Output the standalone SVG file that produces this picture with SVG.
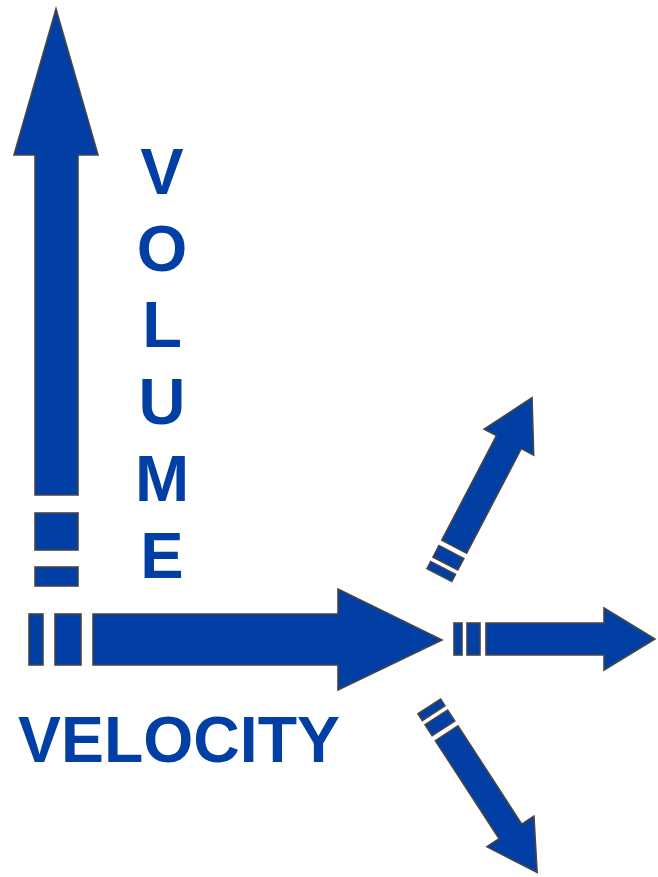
<svg xmlns="http://www.w3.org/2000/svg" width="658" height="877" viewBox="0 0 658 877">
  <style>
    .a { fill: #023FA5; stroke: #454545; stroke-width: 1.6; stroke-linejoin: miter; }
    .t { fill: #023FA5; font-family: "Liberation Sans", Arial, sans-serif; font-weight: bold; font-size: 65px; }
  </style>
  <defs>
    <g id="small">
      <path class="a" d="M0,-14 H118 V-28 L168,0 L118,28 V14 H0 Z"/>
      <rect class="a" x="-19" y="-14" width="13" height="28"/>
      <rect class="a" x="-32" y="-14" width="8" height="28"/>
    </g>
  </defs>
  <rect width="658" height="877" fill="#ffffff"/>
  <g id="volume-arrow">
    <path class="a" d="M35,495 V155 H14 L56,9 L98,155 H78 V495 Z"/>
    <rect class="a" x="35" y="513" width="43" height="37"/>
    <rect class="a" x="35" y="567" width="43" height="19"/>
  </g>
  <g id="velocity-arrow">
    <path class="a" d="M93,614 H338 V589 L442,640 L338,690 V665 H93 Z"/>
    <rect class="a" x="55" y="614" width="26" height="51"/>
    <rect class="a" x="29" y="614" width="14" height="51"/>
  </g>
  <g id="arrow-up">
    <g transform="translate(454.2,546.7) rotate(-62.4)">
      <path class="a" d="M0,-14 H118 V-28 L168,0 L118,28 V14 H0 Z"/>
      <rect class="a" x="-19" y="-14" width="13" height="28"/>
      <rect class="a" x="-32" y="-14" width="8" height="28"/>
    </g>
  </g>
  <g id="arrow-right">
    <g transform="translate(486,639)">
      <path class="a" d="M0,-16 H118 V-31 L169,0 L118,31 V16 H0 Z"/>
      <rect class="a" x="-19" y="-16" width="13" height="32"/>
      <rect class="a" x="-32" y="-16" width="8" height="32"/>
    </g>
  </g>
  <g id="arrow-down">
    <g transform="translate(446.7,733.3) rotate(57)">
      <path class="a" d="M0,-13.5 H117 V-28 L166,0 L117,28 V13.5 H0 Z"/>
      <rect class="a" x="-19" y="-13.5" width="13" height="27"/>
      <rect class="a" x="-32" y="-13.5" width="8" height="27"/>
    </g>
  </g>
  <g id="label-volume" class="t" text-anchor="middle">
    <text x="162" y="194">V</text>
    <text x="162" y="270.6">O</text>
    <text x="162" y="347">L</text>
    <text x="162" y="424">U</text>
    <text x="162" y="501">M</text>
    <text x="162" y="577.5">E</text>
  </g>
  <g id="label-velocity">
    <text class="t" x="18" y="762" textLength="322" lengthAdjust="spacingAndGlyphs">VELOCITY</text>
  </g>
</svg>
